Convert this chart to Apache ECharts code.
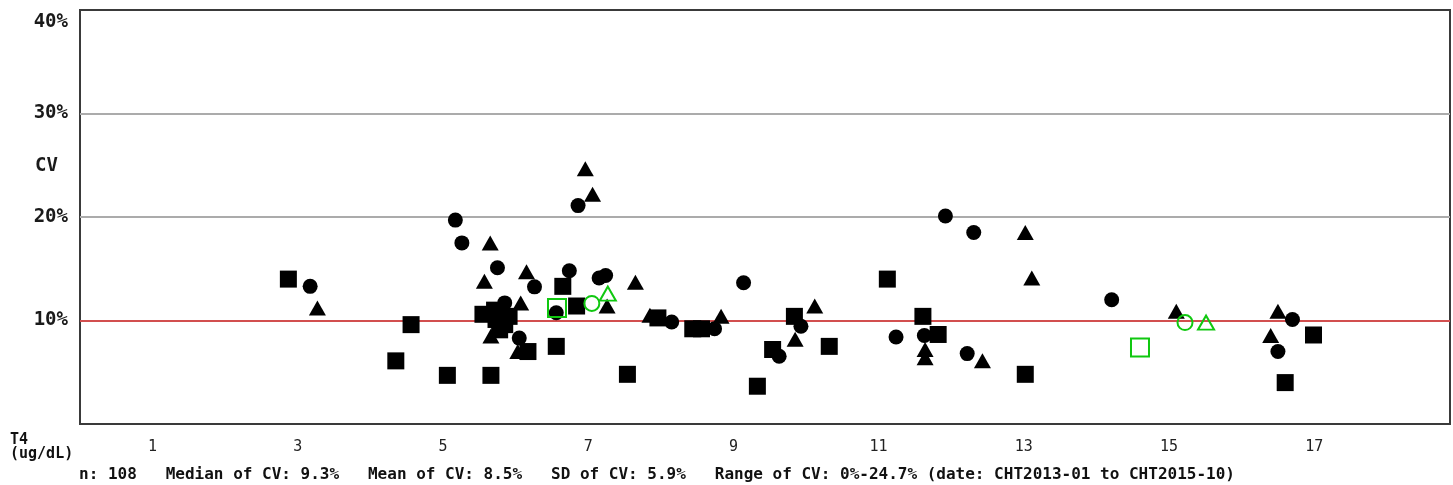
<!DOCTYPE html>
<html>
<head>
<meta charset="utf-8">
<script src="https://cdn.jsdelivr.net/npm/echarts@6/dist/echarts.min.js"></script>
<style>
html,body{margin:0;padding:0;background:#fff;}
#chart{width:1453px;height:485px;}
</style>
</head>
<body>
<div id="chart"></div>
<script>
// T4 (ug/dL) vs CV (%)
const squares = [
  [2.87,14.0],[4.35,6.1],[4.56,9.6],[5.06,4.7],[5.66,4.7],[5.55,10.6],[5.71,11.0],[5.73,10.1],
  [5.91,10.4],[5.78,9.1],[5.85,9.6],[6.17,7.0],[6.56,7.5],[6.65,13.3],[6.84,11.4],[7.54,4.8],
  [7.96,10.25],[8.44,9.2],[8.56,9.2],[9.33,3.65],[9.54,7.2],[9.84,10.4],[10.32,7.5],[11.12,14.0],
  [11.61,10.4],[11.82,8.65],[13.02,4.8],[16.6,4.0],[16.99,8.6]
];
const circles = [
  [3.17,13.3],[5.17,19.7],[5.26,17.5],[5.75,15.1],[5.85,11.7],[6.26,13.25],[6.05,8.3],[6.56,10.75],
  [6.86,21.1],[6.74,14.8],[7.15,14.1],[7.24,14.35],[8.15,9.85],[8.74,9.2],[9.14,13.65],[9.63,6.55],
  [9.93,9.45],[11.24,8.4],[11.63,8.55],[11.92,20.1],[12.31,18.5],[12.22,6.8],[14.21,12.0],[16.5,7.0],
  [16.7,10.1]
];
const triangles = [
  [3.27,11.2],[5.65,17.5],[5.57,13.8],[6.15,14.7],[6.07,11.7],[5.66,8.5],[6.03,7.0],[6.96,24.65],
  [7.06,22.2],[7.26,11.4],[7.65,13.7],[7.85,10.5],[8.83,10.4],[9.85,8.2],[10.12,11.4],[11.64,7.2],
  [11.64,6.4],[12.43,6.1],[13.02,18.5],[13.11,14.1],[15.1,10.9],[16.5,10.9],[16.4,8.55]
];
const greenSquares = [[6.57,11.2],[14.6,7.4]];
const greenCircles = [[7.05,11.65],[15.22,9.8]];
const greenTriangles = [[7.27,12.6],[15.51,9.8]];

const xMin = 0, xMax = 18.87, xInterval = 1;
const yMin = 0, yMax = 40, yInterval = 10;
const yLabels = ['', '10%', '20%', '30%', ''];
const yTopLabel = '40%';
const yName = 'CV';
const xName1 = 'T4';
const xName2 = '(ug/dL)';
const statsText = 'n: 108   Median of CV: 9.3%   Mean of CV: 8.5%   SD of CV: 5.9%   Range of CV: 0%-24.7% (date: CHT2013-01 to CHT2015-10)';

const MONO = '"DejaVu Sans Mono", "Liberation Mono", monospace';
const GREEN = '#10c810';

const chart = echarts.init(document.getElementById('chart'), null, {renderer: 'canvas'});

function blackSeries(data, symbol, size) {
  return {
    type: 'scatter', data: data, symbol: symbol, symbolSize: size,
    itemStyle: {color: '#000', opacity: 1}, silent: true, animation: false
  };
}
function greenSeries(data, symbol, size) {
  return {
    type: 'scatter', data: data, symbol: symbol, symbolSize: size,
    itemStyle: {color: 'rgba(0,0,0,0)', borderColor: GREEN, borderWidth: 2, opacity: 1},
    silent: true, animation: false, z: 5
  };
}

chart.setOption({
  animation: false,
  backgroundColor: '#fff',
  grid: {left: 80, right: 2, top: 10, bottom: 61, show: true, borderColor: '#3a3a3a', borderWidth: 2, backgroundColor: 'transparent'},
  xAxis: {
    type: 'value', min: xMin, max: xMax, interval: xInterval,
    axisLine: {show: false}, axisTick: {show: false}, splitLine: {show: false},
    axisLabel: {
      margin: 16, color: '#222', fontFamily: MONO, fontSize: 15,
      formatter: function (v) { return (Math.abs(v - Math.round(v)) < 1e-9 && Math.round(v) % 2 === 1) ? String(Math.round(v)) : ''; }
    }
  },
  yAxis: {
    type: 'value', min: yMin, max: yMax, interval: yInterval,
    axisLine: {show: false}, axisTick: {show: false},
    splitLine: {show: true, lineStyle: {color: ['#3a3a3a', '#d24f4f', '#ababab', '#ababab', '#3a3a3a'], width: 2}},
    axisLabel: {
      margin: 12, color: '#1a1a1a', fontFamily: MONO, fontSize: 19, fontWeight: 'bold',
      formatter: function (v) { return yLabels[Math.round(v / yInterval)] || ''; }
    }
  },
  graphic: [
    {type: 'text', x: 68, y: 22, style: {text: yTopLabel, fill: '#1a1a1a', font: 'bold 19px ' + MONO, textAlign: 'right', textVerticalAlign: 'middle'}, silent: true},
    {type: 'text', x: 58, y: 166, style: {text: yName, fill: '#1a1a1a', font: 'bold 19px ' + MONO, textAlign: 'right', textVerticalAlign: 'middle'}, silent: true},
    {type: 'text', x: 10, y: 440, style: {text: xName1, fill: '#111', font: 'bold 15px ' + MONO, textAlign: 'left', textVerticalAlign: 'middle'}, silent: true},
    {type: 'text', x: 10, y: 454, style: {text: xName2, fill: '#111', font: 'bold 15px ' + MONO, textAlign: 'left', textVerticalAlign: 'middle'}, silent: true},
    {type: 'text', x: 79, y: 475, style: {text: statsText, fill: '#111', font: 'bold 16px ' + MONO, textAlign: 'left', textVerticalAlign: 'middle'}, silent: true}
  ],
  series: [
    blackSeries(squares, 'rect', 17),
    blackSeries(circles, 'circle', 15),
    blackSeries(triangles, 'triangle', [17, 15]),
    greenSeries(greenSquares, 'rect', 18),
    greenSeries(greenCircles, 'circle', 15),
    greenSeries(greenTriangles, 'triangle', [16, 14])
  ]
});
</script>
</body>
</html>
